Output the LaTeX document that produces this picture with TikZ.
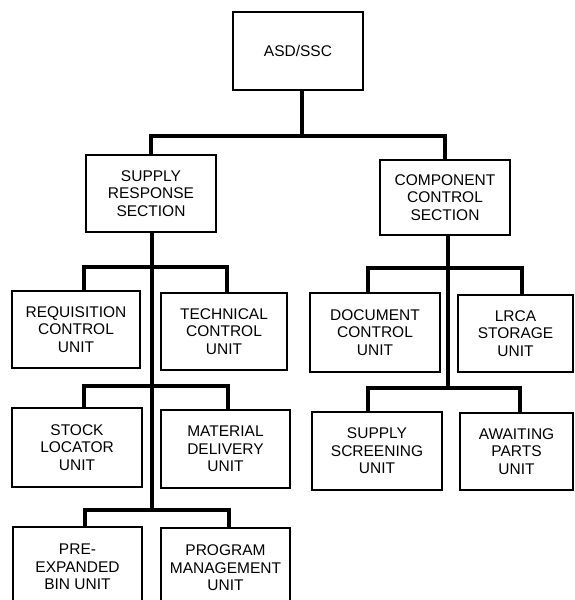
\documentclass[tikz,border=0pt]{standalone}
\usepackage{fontspec}
\setmainfont{Liberation Sans}
\begin{document}
\begin{tikzpicture}[x=1pt,y=-1pt,
  box/.style={draw, line width=1.3pt, inner sep=0pt, align=center,
    font=\fontsize{15.5}{17.6}\selectfont},
  conn/.style={line width=3.6pt}]
\useasboundingbox (0,0) rectangle (575,600);
% boxes
\node[box, minimum width=130pt, minimum height=78pt] (asd) at (298,51) {ASD/SSC};
\node[box, minimum width=130pt, minimum height=77pt] (srs) at (151,193.5) {SUPPLY\\RESPONSE\\SECTION};
\node[box, minimum width=130pt, minimum height=75pt] (ccs) at (445,197.5) {COMPONENT\\CONTROL\\SECTION};
\node[box, minimum width=128pt, minimum height=77pt] (req) at (76,329.5) {REQUISITION\\CONTROL\\UNIT};
\node[box, minimum width=126pt, minimum height=77pt] (tech) at (224,331.5) {TECHNICAL\\CONTROL\\UNIT};
\node[box, minimum width=130pt, minimum height=79pt] (stock) at (77,447.5) {STOCK\\LOCATOR\\UNIT};
\node[box, minimum width=129pt, minimum height=78pt] (mat) at (225.5,449) {MATERIAL\\DELIVERY\\UNIT};
\node[box, minimum width=129pt, minimum height=80pt] (pre) at (77.5,567) {PRE-\\EXPANDED\\BIN UNIT};
\node[box, minimum width=129pt, minimum height=80pt] (prog) at (225.5,568) {PROGRAM\\MANAGEMENT\\UNIT};
\node[box, minimum width=130pt, minimum height=79pt] (doc) at (375,332.5) {DOCUMENT\\CONTROL\\UNIT};
\node[box, minimum width=115pt, minimum height=77pt] (lrca) at (515.5,333.5) {LRCA\\STORAGE\\UNIT};
\node[box, minimum width=130pt, minimum height=78pt] (scr) at (377,451) {SUPPLY\\SCREENING\\UNIT};
\node[box, minimum width=113pt, minimum height=77pt] (await) at (516.5,451.5) {AWAITING\\PARTS\\UNIT};
% junction coordinates
\coordinate (j0) at (302,136);
\coordinate (l1a) at (84,267);  \coordinate (l1b) at (227,267);
\coordinate (l2a) at (84,386);  \coordinate (l2b) at (228,386);
\coordinate (l3a) at (85,510);  \coordinate (l3b) at (229,510);
\coordinate (lt) at (152,510);
\coordinate (r1a) at (368,268); \coordinate (r1b) at (522,268);
\coordinate (r2a) at (368,388); \coordinate (r2b) at (520,388);
\coordinate (rt) at (448,388);
% connectors
\draw[conn] (asd.south -| j0) -- (j0);
\draw[conn] (srs.north) |- (j0) -| (ccs.north);
\draw[conn] (srs.south -| lt) -- (lt);
\draw[conn] (req.north -| l1a) -- (l1a) -- (l1b) -- (tech.north -| l1b);
\draw[conn] (stock.north -| l2a) -- (l2a) -- (l2b) -- (mat.north -| l2b);
\draw[conn] (pre.north -| l3a) -- (l3a) -- (l3b) -- (prog.north -| l3b);
\draw[conn] (ccs.south -| rt) -- (rt);
\draw[conn] (doc.north -| r1a) -- (r1a) -- (r1b) -- (lrca.north -| r1b);
\draw[conn] (scr.north -| r2a) -- (r2a) -- (r2b) -- (await.north -| r2b);
\end{tikzpicture}
\end{document}
